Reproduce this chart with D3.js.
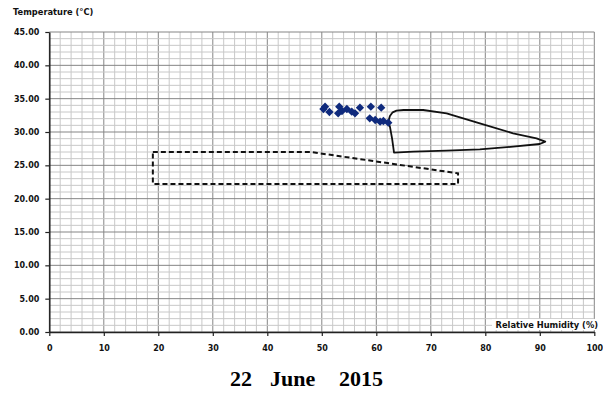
<!DOCTYPE html>
<html>
<head>
<meta charset="utf-8">
<script src="https://cdn.jsdelivr.net/npm/d3@7"></script>
<style>
  html, body { margin: 0; padding: 0; background: #fff; }
  svg { display: block; }
  .tick text { font-family: "DejaVu Sans", Verdana, sans-serif; font-weight: bold; font-size: 8px; fill: #111; }
</style>
</head>
<body>
<svg id="chart" width="603" height="393"></svg>
<script>
// Measured readings: relative humidity (%) and air temperature (°C)
const rhValues   = [50.3, 50.6, 51.4, 53.2, 53.7, 54.6, 55.5, 56.1, 53.0, 57.0, 59.0, 60.9, 58.8, 59.8, 60.7, 61.3, 62.2];
const tempValues = [33.45, 33.8, 33.0, 33.8, 33.15, 33.45, 33.05, 32.8, 32.8, 33.65, 33.8, 33.65, 32.05, 31.8, 31.55, 31.65, 31.4];

// Comfort zone outline (solid)
const zoneRH   = [63.25, 62.9, 62.5, 62.2, 62.5, 63.0, 63.7, 65.0, 68.6, 72.9, 79.0, 85.1, 89.4, 91.0, 90.0, 85.1, 79.0, 72.9, 66.8];
const zoneTemp = [26.9, 29.0, 30.8, 31.55, 32.4, 32.95, 33.2, 33.3, 33.3, 32.8, 31.3, 29.8, 29.05, 28.55, 28.2, 27.8, 27.4, 27.2, 27.05];

// Reference zone outline (dashed)
const refRH   = [19, 48, 75, 75, 19];
const refTemp = [27, 27, 23.8, 22.2, 22.2];

const xTicks = [0, 10, 20, 30, 40, 50, 60, 70, 80, 90, 100];
const yTicks = [0, 5, 10, 15, 20, 25, 30, 35, 40, 45];

const svg = d3.select("#chart");
const x = d3.scaleLinear().domain([0, 100]).range([49.3, 594.3]);
const y = d3.scaleLinear().domain([0, 45]).range([332, 32]);

// Grid: minor every 2 % / 1 °C, major at tick values
const grid = svg.append("g");
grid.selectAll(".vminor").data(d3.range(0, 101, 2)).join("line")
  .attr("x1", d => x(d)).attr("x2", d => x(d))
  .attr("y1", y(45)).attr("y2", y(0))
  .attr("stroke", d => d % 10 === 0 ? "#858585" : "#c8c8c8")
  .attr("stroke-width", 1);
grid.selectAll(".hminor").data(d3.range(0, 46, 1)).join("line")
  .attr("x1", x(0)).attr("x2", x(100))
  .attr("y1", d => y(d)).attr("y2", d => y(d))
  .attr("stroke", d => d % 5 === 0 ? "#858585" : "#c8c8c8")
  .attr("stroke-width", 1);

// Axes
const xAxis = svg.append("g").attr("transform", `translate(0,${y(0)})`)
  .call(d3.axisBottom(x).tickValues(xTicks).tickSize(4).tickSizeOuter(0).tickPadding(9));
const yAxis = svg.append("g").attr("transform", `translate(${x(0)},0)`)
  .call(d3.axisLeft(y).tickValues(yTicks).tickFormat(d3.format(".2f")).tickSize(4).tickSizeOuter(0).tickPadding(6));
[xAxis, yAxis].forEach(a => {
  a.select(".domain").attr("stroke", "#222").attr("stroke-width", 1.5);
  a.selectAll(".tick line").attr("stroke", "#222").attr("stroke-width", 1.2);
});

// Axis titles
svg.append("text").attr("x", 13).attr("y", 15)
  .attr("font-family", "DejaVu Sans, Verdana, sans-serif").attr("font-weight", "bold")
  .attr("font-size", 8.3).attr("fill", "#111").text("Temperature (°C)");
const rhLabel = svg.append("g");
rhLabel.append("rect").attr("x", 492).attr("y", 319).attr("width", 106).attr("height", 11).attr("fill", "#fff");
rhLabel.append("text").attr("x", 598).attr("y", 328).attr("text-anchor", "end")
  .attr("font-family", "DejaVu Sans, Verdana, sans-serif").attr("font-weight", "bold")
  .attr("font-size", 8.3).attr("fill", "#111").text("Relative Humidity (%)");

// Zones
const line = d3.line().x(d => x(d[0])).y(d => y(d[1]));
svg.append("path")
  .datum(d3.zip(refRH, refTemp))
  .attr("d", d => line(d) + "Z")
  .attr("fill", "none").attr("stroke", "#111").attr("stroke-width", 2)
  .attr("stroke-dasharray", "5,3");
svg.append("path")
  .datum(d3.zip(zoneRH, zoneTemp))
  .attr("d", d => line(d) + "Z")
  .attr("fill", "none").attr("stroke", "#111").attr("stroke-width", 1.8)
  .attr("stroke-linejoin", "round");

// Readings as diamonds
svg.append("g").selectAll("path").data(d3.zip(rhValues, tempValues)).join("path")
  .attr("transform", d => `translate(${x(d[0])},${y(d[1])})`)
  .attr("d", d3.symbol(d3.symbolDiamond2, 44))
  .attr("fill", "#0f2a7d");

// Date caption
const cap = svg.append("g")
  .attr("font-family", "Liberation Serif, Times New Roman, serif")
  .attr("font-weight", "bold").attr("font-size", 22).attr("fill", "#000");
cap.append("text").attr("x", 230).attr("y", 386).text("22");
cap.append("text").attr("x", 270).attr("y", 386).text("June");
cap.append("text").attr("x", 339).attr("y", 386).text("2015");
</script>
</body>
</html>
